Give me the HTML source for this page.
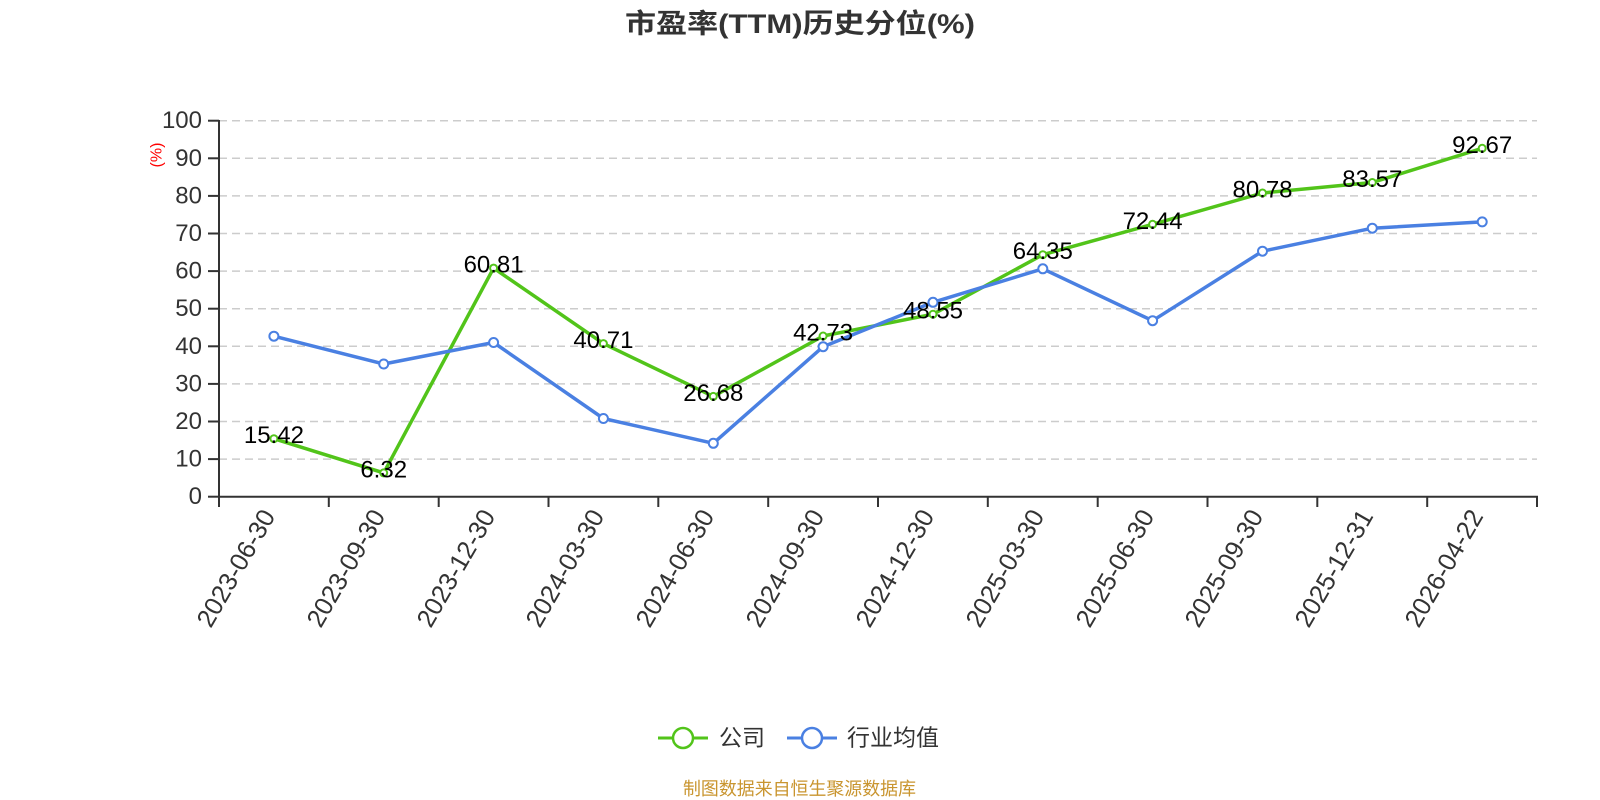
<!DOCTYPE html>
<html><head><meta charset="utf-8"><style>
html,body{margin:0;padding:0;background:#fff;width:1600px;height:800px;overflow:hidden}
svg{display:block}
text{font-family:"Liberation Sans","Noto Sans CJK SC",sans-serif}
</style></head><body>
<svg width="1600" height="800" viewBox="0 0 1600 800" xmlns="http://www.w3.org/2000/svg">
<rect width="1600" height="800" fill="#fff"/>
<text x="800" y="33" text-anchor="middle" font-size="27" font-weight="bold" fill="#333" textLength="350" lengthAdjust="spacingAndGlyphs">市盈率(TTM)历史分位(%)</text>
<g stroke="#ccc" stroke-width="1.5" stroke-dasharray="8,5">
<line x1="219" y1="120.7" x2="1537" y2="120.7"/>
<line x1="219" y1="158.3" x2="1537" y2="158.3"/>
<line x1="219" y1="195.9" x2="1537" y2="195.9"/>
<line x1="219" y1="233.5" x2="1537" y2="233.5"/>
<line x1="219" y1="271.1" x2="1537" y2="271.1"/>
<line x1="219" y1="308.7" x2="1537" y2="308.7"/>
<line x1="219" y1="346.3" x2="1537" y2="346.3"/>
<line x1="219" y1="383.9" x2="1537" y2="383.9"/>
<line x1="219" y1="421.5" x2="1537" y2="421.5"/>
<line x1="219" y1="459.1" x2="1537" y2="459.1"/>
</g>
<g stroke="#333" stroke-width="2">
<line x1="219" y1="120" x2="219" y2="497.7"/>
<line x1="218" y1="496.7" x2="1538" y2="496.7"/>
<line x1="208" y1="120.7" x2="219" y2="120.7"/>
<line x1="208" y1="158.3" x2="219" y2="158.3"/>
<line x1="208" y1="195.9" x2="219" y2="195.9"/>
<line x1="208" y1="233.5" x2="219" y2="233.5"/>
<line x1="208" y1="271.1" x2="219" y2="271.1"/>
<line x1="208" y1="308.7" x2="219" y2="308.7"/>
<line x1="208" y1="346.3" x2="219" y2="346.3"/>
<line x1="208" y1="383.9" x2="219" y2="383.9"/>
<line x1="208" y1="421.5" x2="219" y2="421.5"/>
<line x1="208" y1="459.1" x2="219" y2="459.1"/>
<line x1="208" y1="496.7" x2="219" y2="496.7"/>
<line x1="219" y1="496.7" x2="219" y2="507"/>
<line x1="328.8" y1="496.7" x2="328.8" y2="507"/>
<line x1="438.7" y1="496.7" x2="438.7" y2="507"/>
<line x1="548.5" y1="496.7" x2="548.5" y2="507"/>
<line x1="658.3" y1="496.7" x2="658.3" y2="507"/>
<line x1="768.2" y1="496.7" x2="768.2" y2="507"/>
<line x1="878" y1="496.7" x2="878" y2="507"/>
<line x1="987.8" y1="496.7" x2="987.8" y2="507"/>
<line x1="1097.7" y1="496.7" x2="1097.7" y2="507"/>
<line x1="1207.5" y1="496.7" x2="1207.5" y2="507"/>
<line x1="1317.3" y1="496.7" x2="1317.3" y2="507"/>
<line x1="1427.2" y1="496.7" x2="1427.2" y2="507"/>
<line x1="1537" y1="496.7" x2="1537" y2="507"/>
</g>
<g font-size="24" fill="#333" text-anchor="end" dominant-baseline="central">
<text x="202" y="120.7">100</text>
<text x="202" y="158.3">90</text>
<text x="202" y="195.9">80</text>
<text x="202" y="233.5">70</text>
<text x="202" y="271.1">60</text>
<text x="202" y="308.7">50</text>
<text x="202" y="346.3">40</text>
<text x="202" y="383.9">30</text>
<text x="202" y="421.5">20</text>
<text x="202" y="459.1">10</text>
<text x="202" y="496.7">0</text>
</g>
<text x="157" y="155" font-size="16" fill="#f00" text-anchor="middle" dominant-baseline="central" transform="rotate(-90 157 155)">(%)</text>
<g font-size="25.5" fill="#333" text-anchor="end" dominant-baseline="central">
<text x="269" y="512" transform="rotate(-60 269 512)">2023-06-30</text>
<text x="379" y="512" transform="rotate(-60 379 512)">2023-09-30</text>
<text x="489" y="512" transform="rotate(-60 489 512)">2023-12-30</text>
<text x="598" y="512" transform="rotate(-60 598 512)">2024-03-30</text>
<text x="708" y="512" transform="rotate(-60 708 512)">2024-06-30</text>
<text x="818" y="512" transform="rotate(-60 818 512)">2024-09-30</text>
<text x="928" y="512" transform="rotate(-60 928 512)">2024-12-30</text>
<text x="1038" y="512" transform="rotate(-60 1038 512)">2025-03-30</text>
<text x="1148" y="512" transform="rotate(-60 1148 512)">2025-06-30</text>
<text x="1257" y="512" transform="rotate(-60 1257 512)">2025-09-30</text>
<text x="1367" y="512" transform="rotate(-60 1367 512)">2025-12-31</text>
<text x="1477" y="512" transform="rotate(-60 1477 512)">2026-04-22</text>
</g>
<polyline fill="none" stroke="#52c41a" stroke-width="3.5" stroke-linejoin="round" points="273.9,438.7 383.7,472.9 493.6,268.1 603.4,343.6 713.3,396.4 823.1,336.0 933.0,314.2 1042.8,254.7 1152.6,224.3 1262.5,193.0 1372.3,182.5 1482.2,148.3"/>
<polyline fill="none" stroke="#4a80e2" stroke-width="3.5" stroke-linejoin="round" points="273.9,336.2 383.7,364.0 493.6,342.5 603.4,418.5 713.3,443.3 823.1,346.7 933.0,302.3 1042.8,268.8 1152.6,320.7 1262.5,251.2 1372.3,228.2 1482.2,221.9"/>
<g fill="#fff" stroke="#52c41a" stroke-width="2">
<circle cx="273.9" cy="438.7" r="3.5"/><circle cx="383.7" cy="472.9" r="3.5"/><circle cx="493.6" cy="268.1" r="3.5"/><circle cx="603.4" cy="343.6" r="3.5"/><circle cx="713.3" cy="396.4" r="3.5"/><circle cx="823.1" cy="336.0" r="3.5"/><circle cx="933.0" cy="314.2" r="3.5"/><circle cx="1042.8" cy="254.7" r="3.5"/><circle cx="1152.6" cy="224.3" r="3.5"/><circle cx="1262.5" cy="193.0" r="3.5"/><circle cx="1372.3" cy="182.5" r="3.5"/><circle cx="1482.2" cy="148.3" r="3.5"/>
</g>
<g fill="#fff" stroke="#4a80e2" stroke-width="2">
<circle cx="273.9" cy="336.2" r="4.5"/><circle cx="383.7" cy="364.0" r="4.5"/><circle cx="493.6" cy="342.5" r="4.5"/><circle cx="603.4" cy="418.5" r="4.5"/><circle cx="713.3" cy="443.3" r="4.5"/><circle cx="823.1" cy="346.7" r="4.5"/><circle cx="933.0" cy="302.3" r="4.5"/><circle cx="1042.8" cy="268.8" r="4.5"/><circle cx="1152.6" cy="320.7" r="4.5"/><circle cx="1262.5" cy="251.2" r="4.5"/><circle cx="1372.3" cy="228.2" r="4.5"/><circle cx="1482.2" cy="221.9" r="4.5"/>
</g>
<g font-size="24" fill="#000" text-anchor="middle" dominant-baseline="central">
<text x="273.9" y="435.7">15.42</text>
<text x="383.7" y="469.9">6.32</text>
<text x="493.6" y="265.1">60.81</text>
<text x="603.4" y="340.6">40.71</text>
<text x="713.3" y="393.4">26.68</text>
<text x="823.1" y="333.0">42.73</text>
<text x="933.0" y="311.2">48.55</text>
<text x="1042.8" y="251.7">64.35</text>
<text x="1152.6" y="221.3">72.44</text>
<text x="1262.5" y="190.0">80.78</text>
<text x="1372.3" y="179.5">83.57</text>
<text x="1482.2" y="145.3">92.67</text>
</g>
<line x1="658" y1="738" x2="708" y2="738" stroke="#52c41a" stroke-width="3"/>
<circle cx="683" cy="738" r="10" fill="#fff" stroke="#52c41a" stroke-width="2.5"/>
<text x="719" y="745.5" font-size="23" fill="#333">公司</text>
<line x1="787" y1="738" x2="837" y2="738" stroke="#4a80e2" stroke-width="3"/>
<circle cx="812" cy="738" r="10" fill="#fff" stroke="#4a80e2" stroke-width="2.5"/>
<text x="847" y="745.5" font-size="23" fill="#333">行业均值</text>
<text x="683" y="795" font-size="18" fill="#c9952f" textLength="233" lengthAdjust="spacingAndGlyphs">制图数据来自恒生聚源数据库</text>
</svg>
</body></html>
